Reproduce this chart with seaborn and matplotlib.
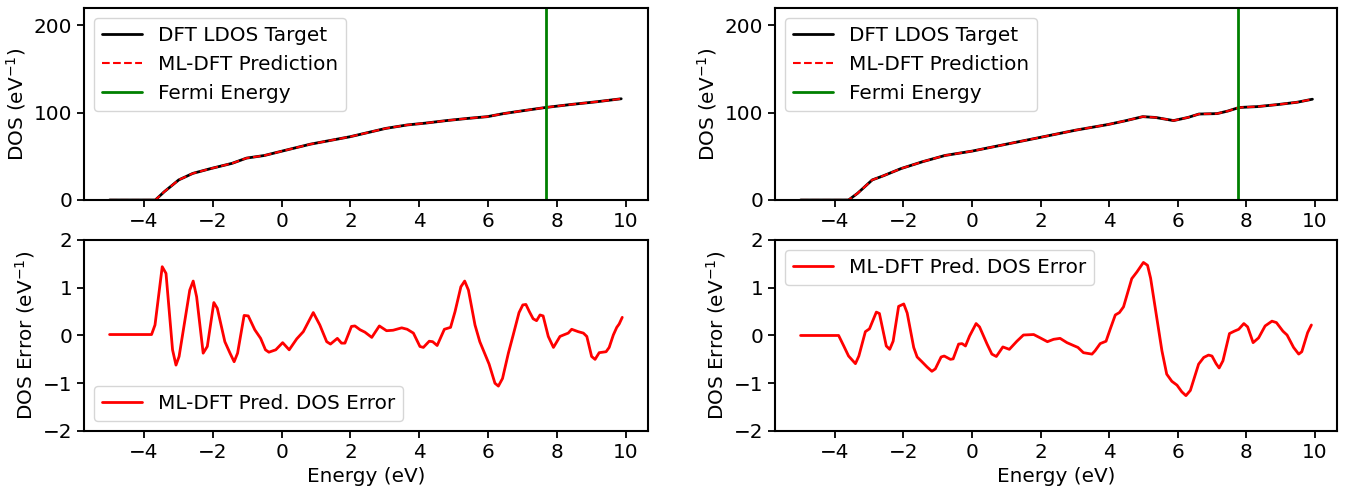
import matplotlib
matplotlib.use("Agg")
import matplotlib.pyplot as plt
import seaborn as sns

# ---- values ----
# top-left panel: DOS target (prediction overlaps it within reading precision)
left_energy = [-5.0, -3.67, -3.41, -2.99, -2.58, -2.06, -1.44, -1.02, -0.50, 0.01,
               0.84, 1.99, 3.02, 3.65, 4.16, 4.79, 5.41, 5.98, 6.45, 6.96,
               7.67, 8.42, 9.14, 9.87]
left_target = [0.0, 0.0, 9.5, 23.0, 30.5, 36.0, 42.0, 48.0, 51.0, 56.0,
               64.0, 72.5, 82.0, 86.0, 88.0, 91.0, 93.5, 95.5, 99.0, 102.0,
               106.0, 109.5, 112.5, 116.0]
left_pred = list(left_target)
left_fermi = 7.67

# top-right panel
right_energy = [-5.0, -3.60, -3.34, -2.91, -2.60, -2.07, -1.43, -0.79, 0.0, 1.01,
                1.96, 3.02, 3.97, 4.50, 4.98, 5.35, 5.88, 6.30, 6.62, 7.15,
                7.47, 7.79, 8.32, 8.95, 9.48, 9.93]
right_target = [0.0, 0.0, 7.6, 23.0, 27.5, 36.0, 44.0, 51.0, 56.0, 64.0,
                71.5, 80.0, 86.5, 91.0, 95.5, 94.6, 91.0, 94.6, 98.5, 99.0,
                102.0, 106.0, 107.0, 109.5, 112.0, 115.5]
right_pred = list(right_target)
right_fermi = 7.76

# bottom-left panel: DOS error
left_err_energy = [-5.0, -3.78, -3.68, -3.47, -3.36, -3.17, -3.07, -2.98, -2.67, -2.57,
                   -2.47, -2.28, -2.16, -1.97, -1.87, -1.65, -1.50, -1.38, -1.28, -1.09,
                   -0.97, -0.78, -0.61, -0.47, -0.37, -0.17, 0.03, 0.22, 0.44, 0.63,
                   0.92, 1.11, 1.31, 1.42, 1.62, 1.74, 1.84, 2.03, 2.13, 2.28,
                   2.42, 2.62, 2.84, 3.05, 3.24, 3.49, 3.65, 3.83, 4.02, 4.12,
                   4.29, 4.39, 4.52, 4.73, 4.91, 5.04, 5.21, 5.32, 5.43, 5.62,
                   5.76, 6.03, 6.20, 6.30, 6.42, 6.59, 6.73, 6.90, 7.01, 7.10,
                   7.20, 7.31, 7.41, 7.51, 7.60, 7.75, 7.90, 8.09, 8.19, 8.33,
                   8.43, 8.62, 8.77, 8.87, 9.01, 9.11, 9.23, 9.43, 9.52, 9.64,
                   9.74, 9.81, 9.90]
left_err = [0.02, 0.02, 0.22, 1.44, 1.30, -0.30, -0.62, -0.44, 0.95, 1.14,
            0.81, -0.37, -0.23, 0.69, 0.57, -0.13, -0.37, -0.55, -0.37, 0.42,
            0.41, 0.12, -0.06, -0.30, -0.35, -0.30, -0.15, -0.30, -0.07, 0.08,
            0.48, 0.22, -0.13, -0.18, -0.06, -0.16, -0.16, 0.19, 0.20, 0.12,
            0.07, -0.04, 0.20, 0.10, 0.11, 0.16, 0.13, 0.05, -0.23, -0.25,
            -0.12, -0.13, -0.21, 0.13, 0.17, 0.50, 1.02, 1.14, 0.95, 0.22,
            -0.13, -0.60, -1.00, -1.06, -0.90, -0.37, 0.01, 0.48, 0.64, 0.65,
            0.50, 0.35, 0.31, 0.43, 0.41, -0.02, -0.25, -0.02, 0.01, 0.05,
            0.13, 0.08, 0.05, -0.02, -0.44, -0.50, -0.36, -0.34, -0.25, 0.01,
            0.17, 0.24, 0.38]

# bottom-right panel: DOS error
right_err_energy = [-5.0, -3.89, -3.74, -3.60, -3.40, -3.30, -3.11, -2.99, -2.79, -2.70,
                    -2.50, -2.40, -2.30, -2.14, -1.99, -1.89, -1.70, -1.60, -1.46, -1.31,
                    -1.17, -1.07, -0.90, -0.81, -0.63, -0.55, -0.39, -0.29, -0.19, -0.07,
                    0.12, 0.22, 0.44, 0.58, 0.71, 0.90, 1.09, 1.31, 1.50, 1.80,
                    1.99, 2.20, 2.38, 2.57, 2.77, 2.96, 3.09, 3.25, 3.50, 3.59,
                    3.74, 3.91, 4.03, 4.18, 4.30, 4.42, 4.66, 4.81, 5.00, 5.12,
                    5.21, 5.39, 5.54, 5.68, 5.83, 5.98, 6.12, 6.24, 6.37, 6.61,
                    6.76, 6.90, 7.00, 7.12, 7.21, 7.32, 7.51, 7.65, 7.78, 7.93,
                    8.04, 8.20, 8.36, 8.55, 8.75, 8.88, 9.07, 9.19, 9.38, 9.53,
                    9.62, 9.79, 9.90]
right_err = [0.0, 0.0, -0.22, -0.43, -0.59, -0.43, 0.08, 0.14, 0.49, 0.46,
             -0.22, -0.29, -0.12, 0.61, 0.66, 0.47, -0.25, -0.45, -0.55, -0.66,
             -0.75, -0.70, -0.45, -0.43, -0.50, -0.49, -0.18, -0.17, -0.22, -0.01,
             0.25, 0.18, -0.18, -0.39, -0.44, -0.24, -0.29, -0.12, 0.01, 0.02,
             -0.05, -0.13, -0.08, -0.06, -0.15, -0.21, -0.25, -0.36, -0.39, -0.32,
             -0.17, -0.12, 0.13, 0.43, 0.48, 0.60, 1.19, 1.33, 1.53, 1.47,
             1.20, 0.37, -0.32, -0.81, -0.96, -1.04, -1.18, -1.26, -1.15, -0.60,
             -0.46, -0.41, -0.43, -0.59, -0.68, -0.53, 0.04, 0.09, 0.13, 0.25,
             0.18, -0.15, -0.05, 0.20, 0.30, 0.27, 0.09, 0.01, -0.25, -0.39,
             -0.34, 0.06, 0.22]

FS = 14.4
sns.set_theme(style="ticks", rc={
    "axes.edgecolor": "black",
    "axes.linewidth": 1.5,
    "xtick.color": "black",
    "ytick.color": "black",
    "text.color": "black",
    "axes.labelcolor": "black",
    "xtick.major.size": 5,
    "ytick.major.size": 5,
    "xtick.major.width": 1.3,
    "ytick.major.width": 1.3,
    "font.size": FS,
    "axes.labelsize": FS,
    "xtick.labelsize": FS,
    "ytick.labelsize": FS,
    "legend.fontsize": FS,
})
plt.rcParams["font.family"] = ["DejaVu Sans"]

fig = plt.figure(figsize=(13.54, 4.86), dpi=100)
ax_tl = fig.add_axes([0.062, 0.5885, 0.4165, 0.395])
ax_tr = fig.add_axes([0.5724, 0.5885, 0.415, 0.395])
ax_bl = fig.add_axes([0.062, 0.1132, 0.4165, 0.393])
ax_br = fig.add_axes([0.5724, 0.1132, 0.415, 0.393])

panels = [
    (ax_tl, ax_bl, left_energy, left_target, left_pred, left_fermi,
     left_err_energy, left_err, "lower left"),
    (ax_tr, ax_br, right_energy, right_target, right_pred, right_fermi,
     right_err_energy, right_err, "upper left"),
]

for ax_top, ax_bot, en, tgt, pred, ef, err_en, err, err_loc in panels:
    sns.lineplot(x=en, y=tgt, ax=ax_top, color="black", lw=2,
                 label="DFT LDOS Target")
    sns.lineplot(x=en, y=pred, ax=ax_top, color="red", lw=1.5, ls="--",
                 label="ML-DFT Prediction")
    ax_top.axvline(ef, color="green", lw=2, label="Fermi Energy")
    ax_top.set_ylim(0, 220)
    ax_top.set_xlim(-5.745, 10.645)
    ax_top.set_yticks([0, 100, 200])
    ax_top.set_xticks(range(-4, 11, 2))
    ax_top.set_ylabel("DOS (eV$^{-1}$)")
    ax_top.legend(loc="upper left")

    sns.lineplot(x=err_en, y=err, ax=ax_bot, color="red", lw=2,
                 label="ML-DFT Pred. DOS Error")
    ax_bot.set_ylim(-2, 2)
    ax_bot.set_xlim(-5.745, 10.645)
    ax_bot.set_yticks([-2, -1, 0, 1, 2])
    ax_bot.set_xticks(range(-4, 11, 2))
    ax_bot.set_xlabel("Energy (eV)")
    ax_bot.set_ylabel("DOS Error (eV$^{-1}$)")
    ax_bot.legend(loc=err_loc)

fig.savefig("out.png", dpi=100)
